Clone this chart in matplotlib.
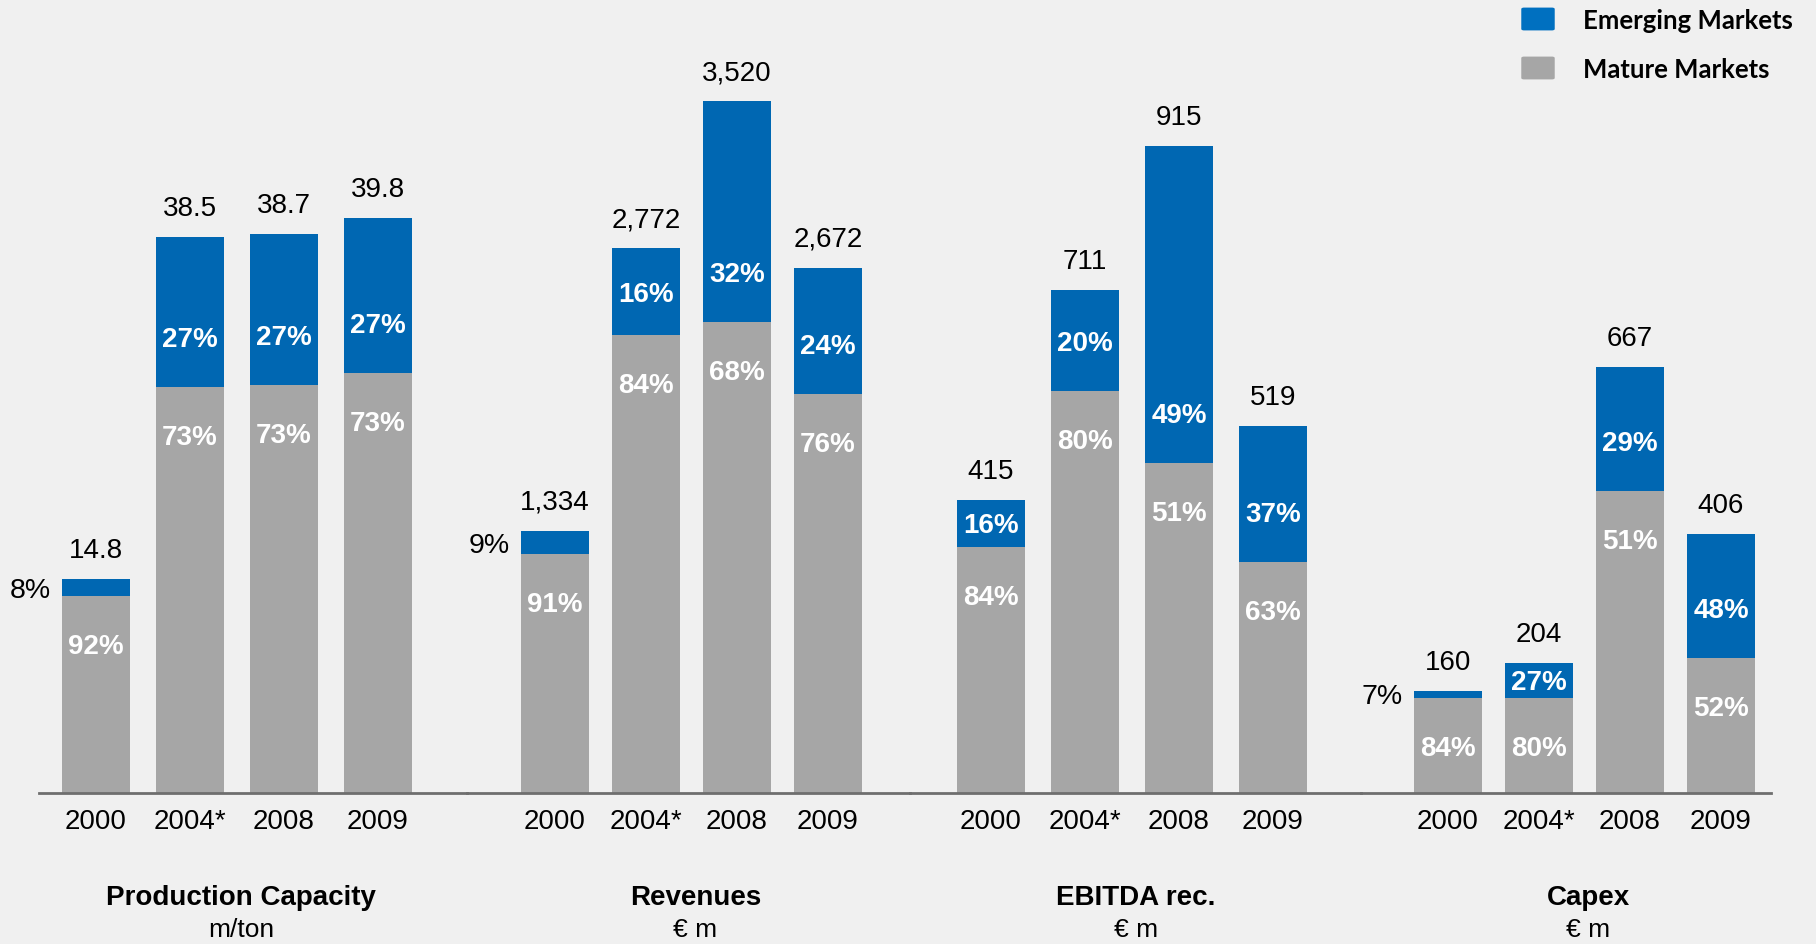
import numpy as np
import matplotlib.pyplot as plt
from matplotlib.patches import FancyBboxPatch

# categories
years = ['2000', '2004*', '2008', '2009']
groups = ['Production Capacity', 'Revenues', 'EBITDA rec.', 'Capex']
units = ['m/ton', '€ m', '€ m', '€ m']

# totals per year
capacity = [14.8, 38.5, 38.7, 39.8]
revenues = [1334, 2772, 3520, 2672]
ebitda = [415, 711, 915, 519]
capex = [160, 204, 667, 406]

# emerging markets share (%)
capacity_em = [8, 27, 27, 27]
revenues_em = [9, 16, 32, 24]
ebitda_em = [16, 20, 49, 37]
capex_em = [7, 27, 29, 48]

# mature markets share (%), as printed
capacity_mat = [92, 73, 73, 73]
revenues_mat = [91, 84, 68, 76]
ebitda_mat = [84, 80, 51, 63]
capex_mat = [84, 80, 51, 52]

totals = [capacity, revenues, ebitda, capex]
em_share = [capacity_em, revenues_em, ebitda_em, capex_em]
mat_share = [capacity_mat, revenues_mat, ebitda_mat, capex_mat]
value_fmt = ['{:.1f}', '{:,.0f}', '{:,.0f}', '{:,.0f}']

BLUE = '#0067B2'
GREY = '#A6A6A6'
BG = '#F0F0F0'

# layout in pixels
W, H = 1816, 944
DPI = 100
PT = 72 / DPI
base_y = 793
spans = [(39, 467), (467, 910), (910, 1361), (1361, 1771)]
first_x = [96, 555, 991, 1448]
steps = [94, 91, 94, 91]
bar_w = 68
ytops = [54.9, 4034, 1121.5, 1241.6]

plt.rcParams['font.family'] = ['Liberation Sans', 'DejaVu Sans']

fig = plt.figure(figsize=(W / DPI, H / DPI), dpi=DPI, facecolor=BG)

for g in range(4):
    x0, x1 = spans[g]
    ax = fig.add_axes([x0 / W, (H - base_y) / H, (x1 - x0) / W, base_y / H])
    ax.set_facecolor('none')
    ax.set_xlim(x0, x1)
    ax.set_ylim(0, ytops[g])
    for s in ['top', 'left', 'right']:
        ax.spines[s].set_visible(False)
    ax.spines['bottom'].set_color('#6E6E6E')
    ax.spines['bottom'].set_linewidth(2.0)
    ax.set_xticks([])
    ax.set_yticks([])

    xs = first_x[g] + steps[g] * np.arange(len(years))
    tot = np.array(totals[g], dtype=float)
    em = tot * np.array(em_share[g]) / 100
    mat = tot - em
    px_per_unit = base_y / ytops[g]

    ax.bar(xs, mat, width=bar_w, color=GREY, zorder=2)
    ax.bar(xs, em, width=bar_w, bottom=mat, color=BLUE, zorder=2)

    for i, x in enumerate(xs):
        # total above the bar
        ax.annotate(value_fmt[g].format(tot[i]), xy=(x, tot[i]), xytext=(0, 21 * PT),
                    textcoords='offset points', ha='center', va='baseline',
                    fontsize=20, color='black', annotation_clip=False)
        # mature share
        ax.annotate(f'{mat_share[g][i]}%', xy=(x, mat[i]), xytext=(0, -48 * PT),
                    textcoords='offset points', ha='center', va='center_baseline',
                    fontsize=20, fontweight='bold', color='white')
        # emerging share
        seg_px = em[i] * px_per_unit
        if seg_px < 28:
            ax.annotate(f'{em_share[g][i]}%', xy=(x - bar_w / 2, mat[i] + em[i] / 2),
                        xytext=(-11 * PT, 0), textcoords='offset points',
                        ha='right', va='center_baseline', fontsize=20.5, color='black',
                        annotation_clip=False)
        else:
            off = min(50, seg_px / 2)
            ax.annotate(f'{em_share[g][i]}%', xy=(x, mat[i]), xytext=(0, off * PT),
                        textcoords='offset points', ha='center', va='center_baseline',
                        fontsize=20, fontweight='bold', color='white')
        # year label
        ax.annotate(years[i], xy=(x, 0), xytext=(0, -36 * PT), textcoords='offset points',
                    ha='center', va='baseline', fontsize=20, color='black',
                    annotation_clip=False)

    cx = xs.mean() + 4
    fig.text(cx / W, 1 - 905 / H, groups[g], ha='center', va='baseline',
             fontsize=20, fontweight='bold')
    fig.text(cx / W, 1 - 937 / H, units[g], ha='center', va='baseline', fontsize=19)

# legend
legend_items = [('Emerging Markets', '#0070C0', 19), ('Mature Markets', GREY, 68)]
for label, color, yc in legend_items:
    box = FancyBboxPatch(((1522 + 2) / W, 1 - (yc + 12 - 2) / H), 28 / W, 20 / H,
                         boxstyle='round,pad=0.0015', transform=fig.transFigure,
                         facecolor=color, edgecolor='none')
    fig.add_artist(box)
    fig.text(1583 / W, 1 - yc / H, label, ha='left', va='center_baseline',
             fontsize=18.5, fontweight='bold', family=['Lato', 'DejaVu Sans'])

fig.savefig('out.png', dpi=DPI, facecolor=BG)
